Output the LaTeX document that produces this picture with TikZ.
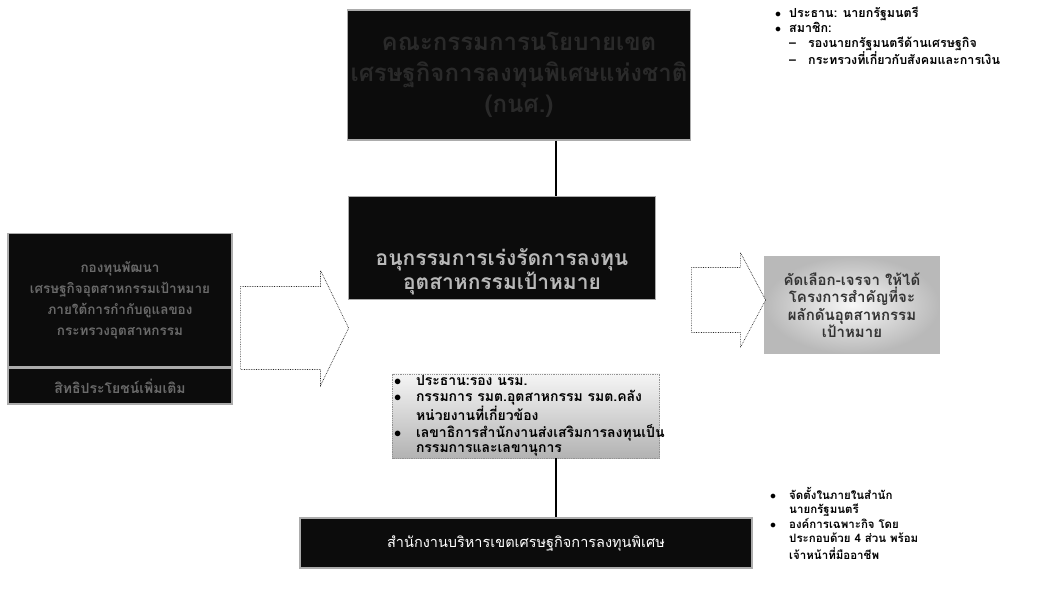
\documentclass[tikz,border=0pt]{standalone}
\usepackage{fontspec}
\setmainfont{Liberation Sans}
\newfontfamily\thaifont[Script=Thai]{Loma}
\usepackage{tikz}
\usetikzlibrary{shapes.arrows,positioning}
\definecolor{ink}{HTML}{0C0C0C}
\definecolor{faint}{HTML}{6A6A6A}
\definecolor{buried}{HTML}{2A2A2A}
\tikzset{
    darkbox/.style={draw=gray!65, fill=ink, line width=1.5pt, align=center, inner sep=3pt},
    memberbox/.style={draw=gray!85, densely dotted, top color=gray!8, bottom color=gray!60, line width=0.8pt, inner sep=1pt},
    targetbox/.style={draw=gray!55, inner color=gray!6, outer color=gray!55, line width=1.2pt, align=center},
    hollow/.style={single arrow, draw=black!85, densely dotted, fill=white, inner xsep=0pt, line width=0.7pt, anchor=tip},
    link/.style={line width=1.6pt, black},
    notes/.style={anchor=north west, inner sep=0pt, font=\thaifont\bfseries\fontsize{11.5}{14.5}\selectfont}
}
\begin{document}
\begin{tikzpicture}[x=1pt, y=-1pt]
  \useasboundingbox (0,0) rectangle (1062,612);

  % Policy committee
  \node[darkbox, minimum width=342pt, minimum height=130pt, text=buried,
        font=\thaifont\bfseries\fontsize{24}{31}\selectfont] (policy) at (519,75) {
    คณะกรรมการนโยบายเขต\\
    เศรษฐกิจการลงทุนพิเศษแห่งชาติ\\
    (กนศ.)
  };

  \node[darkbox, minimum width=307pt, minimum height=103pt] (sub) at (502,248) {};
  \node[text=gray!55, align=center, font=\thaifont\bfseries\fontsize{21}{22}\selectfont] (subtext) at ([yshift=-24pt]sub.center) {
    อนุกรรมการเร่งรัดการลงทุน\\
    อุตสาหกรรมเป้าหมาย
  };

  \node[memberbox, minimum width=267pt, minimum height=77pt,
        font=\thaifont\bfseries\fontsize{14}{15}\selectfont] (members) at (526,416) {%
    \begin{tabular}{@{}p{22pt}@{}p{242pt}@{}}
      $\bullet$ & ประธาน:รอง นรม.\\
      $\bullet$ & กรรมการ รมต.อุตสาหกรรม รมต.คลัง\\
                & หน่วยงานที่เกี่ยวข้อง\\
      $\bullet$ & เลขาธิการสำนักงานส่งเสริมการลงทุนเป็น\\
                & กรรมการและเลขานุการ
    \end{tabular}};

  \node[darkbox, minimum width=452pt, minimum height=50pt, text=white,
        font=\thaifont\fontsize{14.5}{18}\selectfont] (office) at (526,543) {สำนักงานบริหารเขตเศรษฐกิจการลงทุนพิเศษ};

  % Side boxes
  \node[darkbox, minimum width=224pt, minimum height=133pt, text=faint,
        font=\thaifont\bfseries\fontsize{13.5}{21}\selectfont] (fund) at (120,300) {
    กองทุนพัฒนา\\
    เศรษฐกิจอุตสาหกรรมเป้าหมาย\\
    ภายใต้การกำกับดูแลของ\\
    กระทรวงอุตสาหกรรม
  };
  \node[darkbox, minimum width=224pt, minimum height=36pt, text=faint,
        font=\thaifont\bfseries\fontsize{14}{16}\selectfont] (perk) at (120,386) {สิทธิประโยชน์เพิ่มเติม};

  \node[targetbox, minimum width=175pt, minimum height=97pt, text=black!80,
        font=\thaifont\bfseries\fontsize{15}{17.5}\selectfont] (target) at (852,305) {
    คัดเลือก-เจรจา ให้ได้\\
    โครงการสำคัญที่จะ\\
    ผลักดันอุตสาหกรรม\\
    เป้าหมาย
  };

  % Block arrows
  \node[hollow, inner ysep=41pt, minimum height=108pt, minimum width=115pt,
        single arrow head extend=16pt, single arrow tip angle=128] (inflow) at (349,328) {};
  \node[hollow, inner ysep=32pt, minimum height=74pt, minimum width=95pt,
        single arrow head extend=15pt, single arrow tip angle=124] (outflow) at (766,300) {};

  % Connectors
  \coordinate (spine) at (556,0);
  \draw[link] (policy.south -| spine) -- (sub.north -| spine);
  \draw[link] (members.south -| spine) -- (office.north -| spine);

  % Notes
  \node[notes, font=\thaifont\bfseries\fontsize{12.5}{14.5}\selectfont] (chairnote) at (775,7) {%
    \begin{tabular}{@{}p{14pt}@{}p{19pt}@{}l@{}}
      $\bullet$ & \multicolumn{2}{@{}l}{ประธาน: นายกรัฐมนตรี}\\
      $\bullet$ & \multicolumn{2}{@{}l}{สมาชิก:}\\
                & – & รองนายกรัฐมนตรีด้านเศรษฐกิจ\\
                & – & กระทรวงที่เกี่ยวกับสังคมและการเงิน
    \end{tabular}};

  \node[notes] (officenote) at (770,487) {%
    \begin{tabular}{@{}p{19pt}@{}l@{}}
      $\bullet$ & จัดตั้งในภายในสำนัก\\
                & นายกรัฐมนตรี\\
      $\bullet$ & องค์การเฉพาะกิจ โดย\\
                & ประกอบด้วย 4 ส่วน พร้อม\\
                & เจ้าหน้าที่มืออาชีพ
    \end{tabular}};
\end{tikzpicture}
\end{document}
